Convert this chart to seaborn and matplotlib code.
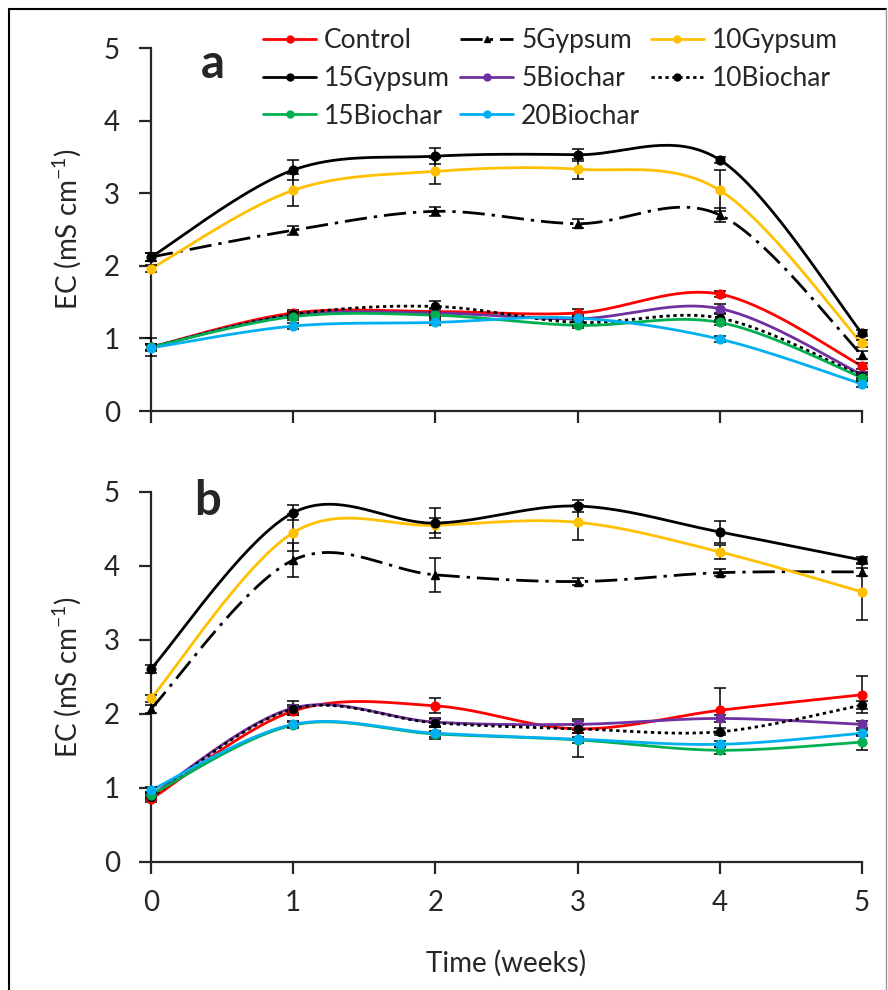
import numpy as np
import pandas as pd
import matplotlib
matplotlib.use("Agg")
import matplotlib.pyplot as plt
import seaborn as sns
from matplotlib.lines import Line2D

# 数据
weeks = [0, 1, 2, 3, 4, 5]
treatments = ['Control', '5Gypsum', '10Gypsum', '15Gypsum',
              '5Biochar', '10Biochar', '15Biochar', '20Biochar']

# panel a
a_control = [0.88, 1.35, 1.37, 1.35, 1.61, 0.62]
a_5gyp = [2.12, 2.49, 2.75, 2.58, 2.70, 0.77]
a_10gyp = [1.96, 3.04, 3.30, 3.33, 3.04, 0.93]
a_15gyp = [2.12, 3.32, 3.51, 3.53, 3.46, 1.07]
a_5bio = [0.88, 1.32, 1.35, 1.27, 1.41, 0.50]
a_10bio = [0.88, 1.33, 1.44, 1.22, 1.28, 0.48]
a_15bio = [0.88, 1.30, 1.32, 1.18, 1.22, 0.46]
a_20bio = [0.87, 1.17, 1.22, 1.28, 0.99, 0.37]

a_control_err = [0.04, 0.04, 0.05, 0.06, 0.04, 0.04]
a_5gyp_err = [0.05, 0.06, 0.06, 0.06, 0.10, 0.05]
a_10gyp_err = [0.05, 0.22, 0.18, 0.14, 0.28, 0.05]
a_15gyp_err = [0.05, 0.14, 0.11, 0.08, 0.04, 0.04]
a_5bio_err = [0.04, 0.04, 0.05, 0.04, 0.06, 0.04]
a_10bio_err = [0.12, 0.04, 0.08, 0.05, 0.05, 0.04]
a_15bio_err = [0.04, 0.04, 0.04, 0.04, 0.04, 0.04]
a_20bio_err = [0.04, 0.04, 0.04, 0.04, 0.04, 0.04]

# panel b
b_control = [0.85, 2.04, 2.11, 1.80, 2.05, 2.26]
b_5gyp = [2.07, 4.08, 3.88, 3.79, 3.91, 3.92]
b_10gyp = [2.21, 4.45, 4.55, 4.59, 4.19, 3.65]
b_15gyp = [2.61, 4.72, 4.58, 4.81, 4.46, 4.08]
b_5bio = [0.90, 2.08, 1.89, 1.86, 1.94, 1.86]
b_10bio = [0.88, 2.07, 1.88, 1.80, 1.76, 2.12]
b_15bio = [0.91, 1.85, 1.73, 1.65, 1.51, 1.62]
b_20bio = [0.97, 1.86, 1.74, 1.66, 1.59, 1.74]

b_control_err = [0.04, 0.05, 0.10, 0.05, 0.30, 0.25]
b_5gyp_err = [0.05, 0.23, 0.23, 0.05, 0.05, 0.05]
b_10gyp_err = [0.05, 0.25, 0.10, 0.24, 0.10, 0.38]
b_15gyp_err = [0.05, 0.10, 0.20, 0.08, 0.15, 0.04]
b_5bio_err = [0.04, 0.10, 0.05, 0.07, 0.05, 0.05]
b_10bio_err = [0.04, 0.05, 0.05, 0.05, 0.05, 0.05]
b_15bio_err = [0.04, 0.04, 0.04, 0.04, 0.05, 0.10]
b_20bio_err = [0.04, 0.04, 0.08, 0.24, 0.04, 0.04]

colors = {'Control': '#FF0000', '5Gypsum': '#000000', '10Gypsum': '#FFC000',
          '15Gypsum': '#000000', '5Biochar': '#7030A0', '10Biochar': '#000000',
          '15Biochar': '#00B050', '20Biochar': '#00B0F0'}
dashes = {t: '' for t in treatments}
dashes['5Gypsum'] = (8, 2.5, 1.2, 2.5)
dashes['10Biochar'] = (1.2, 1.3)
markers = {t: 'o' for t in treatments}
markers['5Gypsum'] = '^'


def smooth(x, y, n=40):
    # Excel-style smoothed line (Bezier through the points)
    px = np.r_[x[0], x, x[-1]].astype(float)
    py = np.r_[y[0], y, y[-1]].astype(float)
    t = np.linspace(0, 1, n)[:, None]
    out = []
    for i in range(1, len(px) - 2):
        p0 = np.array([px[i - 1], py[i - 1]])
        p1 = np.array([px[i], py[i]])
        p2 = np.array([px[i + 1], py[i + 1]])
        p3 = np.array([px[i + 2], py[i + 2]])
        c1 = p1 + (p2 - p0) / 6
        c2 = p2 - (p3 - p1) / 6
        seg = ((1 - t) ** 3) * p1 + 3 * ((1 - t) ** 2) * t * c1 + 3 * (1 - t) * t ** 2 * c2 + t ** 3 * p2
        out.append(seg if i == 1 else seg[1:])
    return np.vstack(out)


def draw_panel(ax, means, errs, label):
    rows = []
    for trt in treatments:
        pts = smooth(np.array(weeks), np.array(means[trt]))
        for k, (xx, yy) in enumerate(pts):
            rows.append({'week': xx, 'EC': yy, 'Treatment': trt, 'k': k})
    df = pd.DataFrame(rows)
    sns.lineplot(data=df, x='week', y='EC', hue='Treatment', style='Treatment',
                 hue_order=treatments, style_order=treatments, palette=colors,
                 dashes=dashes, sort=False, estimator=None, units='Treatment',
                 linewidth=2.0, legend=False, ax=ax)
    for line in ax.get_lines():
        line.set_clip_on(False)
    for trt in treatments:
        ms = 6.3 if trt != '10Biochar' else 5.8
        ax.errorbar(weeks, means[trt], yerr=errs[trt], fmt=markers[trt], color=colors[trt],
                    ms=ms, ecolor='black', elinewidth=1.1, capsize=4.5, capthick=1.1,
                    clip_on=False, zorder=3)
    ax.set_xlim(0, 5)
    ax.set_ylim(0, 5)
    ax.set_xticks(weeks)
    ax.set_yticks([0, 1, 2, 3, 4, 5])
    ax.set_xlabel('')
    ax.set_ylabel('EC (mS cm$^{-1}$)', fontsize=20)
    ax.yaxis.set_label_coords(-0.095, 0.5)
    sns.despine(ax=ax)
    for s in ['left', 'bottom']:
        ax.spines[s].set_linewidth(1.6)
    ax.tick_params(direction='out', length=8.5, width=1.6, labelsize=20, pad=12)
    ax.tick_params(axis='y', pad=14)
    ax.text(0.087 if label == 'a' else 0.08, 0.955 if label == 'a' else 0.975, label,
            transform=ax.transAxes, fontsize=34, fontweight='bold', ha='center', va='center')


sns.set_style('ticks')
plt.rcParams['font.family'] = ['Lato', 'DejaVu Sans']
plt.rcParams['mathtext.fontset'] = 'custom'
plt.rcParams['mathtext.rm'] = 'Lato'
plt.rcParams['mathtext.it'] = 'Lato:italic'

a_means = dict(zip(treatments, [a_control, a_5gyp, a_10gyp, a_15gyp, a_5bio, a_10bio, a_15bio, a_20bio]))
a_errs = dict(zip(treatments, [a_control_err, a_5gyp_err, a_10gyp_err, a_15gyp_err,
                               a_5bio_err, a_10bio_err, a_15bio_err, a_20bio_err]))
b_means = dict(zip(treatments, [b_control, b_5gyp, b_10gyp, b_15gyp, b_5bio, b_10bio, b_15bio, b_20bio]))
b_errs = dict(zip(treatments, [b_control_err, b_5gyp_err, b_10gyp_err, b_15gyp_err,
                               b_5bio_err, b_10bio_err, b_15bio_err, b_20bio_err]))

fig = plt.figure(figsize=(8.88, 9.9), dpi=100)
ax_a = fig.add_axes([151 / 888, 1 - 411 / 990, 711 / 888, 363 / 990])
ax_b = fig.add_axes([151 / 888, 1 - 862 / 990, 711 / 888, 370 / 990])

draw_panel(ax_a, a_means, a_errs, 'a')
draw_panel(ax_b, b_means, b_errs, 'b')
ax_a.set_xticklabels([])
ax_b.set_xlabel('Time (weeks)', fontsize=20, labelpad=24)

# legend (row-wise order like the original)
order = ['Control', '15Gypsum', '15Biochar', '5Gypsum', '5Biochar', '20Biochar', '10Gypsum', '10Biochar']
handles = []
for trt in order:
    ls = '-' if dashes[trt] == '' else (0, dashes[trt])
    handles.append(Line2D([], [], color=colors[trt], lw=2.0, linestyle=ls,
                          marker=markers[trt], ms=5))
fig.legend(handles, order, ncol=3, loc='upper left', bbox_to_anchor=(250 / 888, 1 - 15 / 990),
           frameon=False, fontsize=19, handlelength=2.0, handletextpad=0.3,
           labelspacing=0.48, columnspacing=0.4, borderpad=0)

# outer frame
fig.add_artist(Line2D([9 / 888, 9 / 888], [0, 1 - 9 / 990], color='black', lw=1.5))
fig.add_artist(Line2D([9 / 888, 886 / 888], [1 - 9 / 990, 1 - 9 / 990], color='black', lw=1.5))
fig.add_artist(Line2D([886 / 888, 886 / 888], [0, 1 - 9 / 990], color='#999999', lw=1.0))

plt.savefig('out.png', dpi=100)
